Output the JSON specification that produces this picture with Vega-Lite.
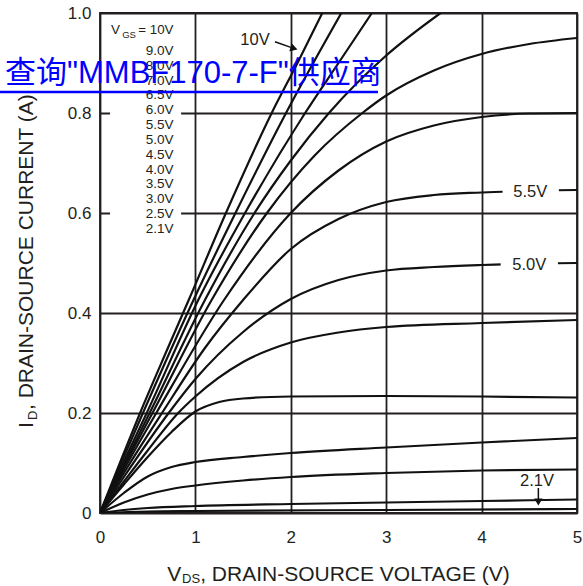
{
  "$schema": "https://vega.github.io/schema/vega-lite/v6.json",
  "width": 477,
  "height": 500,
  "autosize": "none",
  "padding": {"left": 100, "top": 13, "right": 6, "bottom": 73},
  "background": "white",
  "config": {"view": {"stroke": "#231f20", "strokeWidth": 1.8}, "font": "Liberation Sans"},
  "data": {"values": [{}]},
  "datasets": {
    "curves": [
      {"v":"10V","x":0,"y":0},{"v":"10V","x":0.25,"y":0.12},{"v":"10V","x":0.42,"y":0.2},{"v":"10V","x":0.7,"y":0.325},{"v":"10V","x":0.93,"y":0.426},{"v":"10V","x":1.32,"y":0.6},{"v":"10V","x":1.8,"y":0.8},{"v":"10V","x":2.07,"y":0.9},{"v":"10V","x":2.33,"y":1.0},
      {"v":"9V","x":0,"y":0},{"v":"9V","x":0.25,"y":0.112},{"v":"9V","x":0.45,"y":0.2},{"v":"9V","x":0.98,"y":0.426},{"v":"9V","x":1.42,"y":0.6},{"v":"9V","x":1.95,"y":0.8},{"v":"9V","x":2.53,"y":1.0},
      {"v":"8V","x":0,"y":0},{"v":"8V","x":0.25,"y":0.103},{"v":"8V","x":0.49,"y":0.2},{"v":"8V","x":1.03,"y":0.426},{"v":"8V","x":1.52,"y":0.6},{"v":"8V","x":2.15,"y":0.8},{"v":"8V","x":2.5,"y":0.9},{"v":"8V","x":2.85,"y":1.0},
      {"v":"7V","x":0,"y":0},{"v":"7V","x":0.25,"y":0.097},{"v":"7V","x":0.52,"y":0.2},{"v":"7V","x":1.1,"y":0.426},{"v":"7V","x":1.62,"y":0.6},{"v":"7V","x":2.0,"y":0.705},{"v":"7V","x":2.4,"y":0.8},{"v":"7V","x":3.0,"y":0.915},{"v":"7V","x":3.57,"y":1.0},
      {"v":"6.5V","x":0,"y":0},{"v":"6.5V","x":0.25,"y":0.093},{"v":"6.5V","x":0.55,"y":0.2},{"v":"6.5V","x":1.17,"y":0.426},{"v":"6.5V","x":1.75,"y":0.6},{"v":"6.5V","x":2.25,"y":0.715},{"v":"6.5V","x":2.75,"y":0.8},{"v":"6.5V","x":3.0,"y":0.835},{"v":"6.5V","x":3.5,"y":0.885},{"v":"6.5V","x":4.0,"y":0.918},{"v":"6.5V","x":4.5,"y":0.938},{"v":"6.5V","x":5.0,"y":0.95},
      {"v":"6.0V","x":0,"y":0},{"v":"6.0V","x":0.25,"y":0.087},{"v":"6.0V","x":0.59,"y":0.2},{"v":"6.0V","x":1.3,"y":0.426},{"v":"6.0V","x":2.0,"y":0.6},{"v":"6.0V","x":2.5,"y":0.685},{"v":"6.0V","x":3.0,"y":0.743},{"v":"6.0V","x":3.5,"y":0.775},{"v":"6.0V","x":4.0,"y":0.792},{"v":"6.0V","x":4.5,"y":0.799},{"v":"6.0V","x":5.0,"y":0.8},
      {"v":"5.5V","x":0,"y":0},{"v":"5.5V","x":0.25,"y":0.08},{"v":"5.5V","x":0.65,"y":0.2},{"v":"5.5V","x":1.1,"y":0.33},{"v":"5.5V","x":1.5,"y":0.426},{"v":"5.5V","x":2.0,"y":0.528},{"v":"5.5V","x":2.5,"y":0.588},{"v":"5.5V","x":3.0,"y":0.622},{"v":"5.5V","x":3.5,"y":0.636},{"v":"5.5V","x":4.0,"y":0.641},{"v":"5.5V","x":5.0,"y":0.646},
      {"v":"5.0V","x":0,"y":0},{"v":"5.0V","x":0.25,"y":0.072},{"v":"5.0V","x":0.72,"y":0.2},{"v":"5.0V","x":1.0,"y":0.268},{"v":"5.0V","x":1.5,"y":0.362},{"v":"5.0V","x":2.0,"y":0.428},{"v":"5.0V","x":2.5,"y":0.466},{"v":"5.0V","x":3.0,"y":0.485},{"v":"5.0V","x":3.5,"y":0.492},{"v":"5.0V","x":4.0,"y":0.496},{"v":"5.0V","x":5.0,"y":0.5},
      {"v":"4.5V","x":0,"y":0},{"v":"4.5V","x":0.25,"y":0.063},{"v":"4.5V","x":0.5,"y":0.125},{"v":"4.5V","x":0.82,"y":0.2},{"v":"4.5V","x":1.0,"y":0.233},{"v":"4.5V","x":1.5,"y":0.302},{"v":"4.5V","x":2.0,"y":0.341},{"v":"4.5V","x":2.5,"y":0.361},{"v":"4.5V","x":3.0,"y":0.372},{"v":"4.5V","x":4.0,"y":0.38},{"v":"4.5V","x":5.0,"y":0.386},
      {"v":"4.0V","x":0,"y":0},{"v":"4.0V","x":0.25,"y":0.057},{"v":"4.0V","x":0.5,"y":0.112},{"v":"4.0V","x":0.75,"y":0.162},{"v":"4.0V","x":1.0,"y":0.203},{"v":"4.0V","x":1.25,"y":0.222},{"v":"4.0V","x":1.5,"y":0.229},{"v":"4.0V","x":2.0,"y":0.233},{"v":"4.0V","x":3.0,"y":0.234},{"v":"4.0V","x":4.0,"y":0.233},{"v":"4.0V","x":5.0,"y":0.231},
      {"v":"3.5V","x":0,"y":0},{"v":"3.5V","x":0.25,"y":0.04},{"v":"3.5V","x":0.5,"y":0.073},{"v":"3.5V","x":0.75,"y":0.092},{"v":"3.5V","x":1.0,"y":0.102},{"v":"3.5V","x":1.5,"y":0.112},{"v":"3.5V","x":2.0,"y":0.12},{"v":"3.5V","x":3.0,"y":0.131},{"v":"3.5V","x":4.0,"y":0.141},{"v":"3.5V","x":5.0,"y":0.15},
      {"v":"3.0V","x":0,"y":0},{"v":"3.0V","x":0.25,"y":0.021},{"v":"3.0V","x":0.5,"y":0.037},{"v":"3.0V","x":0.75,"y":0.048},{"v":"3.0V","x":1.0,"y":0.055},{"v":"3.0V","x":1.5,"y":0.065},{"v":"3.0V","x":2.0,"y":0.072},{"v":"3.0V","x":3.0,"y":0.08},{"v":"3.0V","x":4.0,"y":0.085},{"v":"3.0V","x":5.0,"y":0.087},
      {"v":"2.5V","x":0,"y":0},{"v":"2.5V","x":0.25,"y":0.006},{"v":"2.5V","x":0.5,"y":0.01},{"v":"2.5V","x":1.0,"y":0.014},{"v":"2.5V","x":2.0,"y":0.018},{"v":"2.5V","x":3.0,"y":0.021},{"v":"2.5V","x":4.0,"y":0.024},{"v":"2.5V","x":5.0,"y":0.027},
      {"v":"2.1V","x":0,"y":0},{"v":"2.1V","x":0.5,"y":0.003},{"v":"2.1V","x":1.0,"y":0.004},{"v":"2.1V","x":3.0,"y":0.006},{"v":"2.1V","x":5.0,"y":0.008}
    ]
  },
  "layer": [
    {
      "data": {"name": "curves"},
      "mark": {"type": "line", "color": "#111111", "strokeWidth": 2.2, "interpolate": "monotone", "clip": true},
      "encoding": {
        "x": {"field": "x", "type": "quantitative",
          "scale": {"domain": [0, 5], "nice": false, "zero": false},
          "axis": {"values": [0, 1, 2, 3, 4, 5], "grid": true, "gridColor": "#231f20", "gridWidth": 1.8, "gridOpacity": 1,
                   "domain": false, "ticks": false, "labelFontSize": 17, "labelColor": "#231f20", "labelPadding": 16,
                   "labelFlush": false, "labelFont": "Liberation Sans", "title": null,
                   "labelExpr": "format(datum.value, 'd')"}},
        "y": {"field": "y", "type": "quantitative",
          "scale": {"domain": [0, 1], "nice": false, "zero": false},
          "axis": {"values": [0, 0.2, 0.4, 0.6, 0.8, 1.0], "grid": true, "gridColor": "#231f20", "gridWidth": 1.8, "gridOpacity": 1,
                   "domain": false, "ticks": false, "labelFontSize": 17, "labelColor": "#231f20", "labelPadding": 9,
                   "labelFlush": false, "labelFont": "Liberation Sans", "title": null,
                   "labelExpr": "datum.value == 0 ? '0' : format(datum.value, '.1f')"}},
        "detail": {"field": "v", "type": "nominal"}
      }
    },
    {
      "mark": {"type": "rect", "fill": "white"},
      "encoding": {"x": {"datum": 0.105, "type": "quantitative"}, "x2": {"datum": 0.85}, "y": {"datum": 0.556, "type": "quantitative"}, "y2": {"datum": 0.99}}
    },
    {
      "mark": {"type": "rect", "fill": "white"},
      "encoding": {"x": {"datum": 4.22, "type": "quantitative"}, "x2": {"datum": 4.81}, "y": {"datum": 0.615, "type": "quantitative"}, "y2": {"datum": 0.68}}
    },
    {
      "mark": {"type": "rect", "fill": "white"},
      "encoding": {"x": {"datum": 4.2, "type": "quantitative"}, "x2": {"datum": 4.8}, "y": {"datum": 0.468, "type": "quantitative"}, "y2": {"datum": 0.535}}
    },
    {
      "mark": {"type": "text", "align": "center", "baseline": "alphabetic", "fontSize": 16.5, "color": "#231f20", "text": "5.5V"},
      "encoding": {"x": {"datum": 4.51, "type": "quantitative"}, "y": {"datum": 0.632, "type": "quantitative"}}
    },
    {
      "mark": {"type": "text", "align": "center", "baseline": "alphabetic", "fontSize": 16.5, "color": "#231f20", "text": "5.0V"},
      "encoding": {"x": {"datum": 4.5, "type": "quantitative"}, "y": {"datum": 0.486, "type": "quantitative"}}
    },
    {
      "mark": {"type": "text", "align": "center", "baseline": "alphabetic", "fontSize": 16.5, "color": "#231f20", "text": "2.1V"},
      "encoding": {"x": {"datum": 4.58, "type": "quantitative"}, "y": {"datum": 0.054, "type": "quantitative"}}
    },
    {
      "mark": {"type": "rule", "color": "#111111", "strokeWidth": 1.5},
      "encoding": {"x": {"datum": 4.595, "type": "quantitative"}, "y": {"datum": 0.05, "type": "quantitative"}, "y2": {"datum": 0.025}}
    },
    {
      "mark": {"type": "point", "shape": "triangle-down", "filled": true, "color": "#111111", "size": 70, "opacity": 1},
      "encoding": {"x": {"datum": 4.595, "type": "quantitative"}, "y": {"datum": 0.022, "type": "quantitative"}}
    },
    {
      "mark": {"type": "text", "align": "center", "baseline": "alphabetic", "fontSize": 16.5, "color": "#231f20", "text": "10V"},
      "encoding": {"x": {"datum": 1.625, "type": "quantitative"}, "y": {"datum": 0.936, "type": "quantitative"}}
    },
    {
      "mark": {"type": "rule", "color": "#111111", "strokeWidth": 1.5},
      "encoding": {"x": {"datum": 1.834, "type": "quantitative"}, "x2": {"datum": 2.0}, "y": {"datum": 0.9426, "type": "quantitative"}, "y2": {"datum": 0.9312}}
    },
    {
      "mark": {"type": "point", "shape": "triangle-right", "filled": true, "color": "#111111", "size": 70, "angle": 18, "opacity": 1},
      "encoding": {"x": {"datum": 2.034, "type": "quantitative"}, "y": {"datum": 0.929, "type": "quantitative"}}
    },
    {
      "mark": {"type": "text", "align": "left", "baseline": "alphabetic", "fontSize": 13.5, "color": "#231f20", "text": "V"},
      "encoding": {"x": {"datum": 0.115, "type": "quantitative"}, "y": {"datum": 0.9574, "type": "quantitative"}}
    },
    {
      "mark": {"type": "text", "align": "left", "baseline": "alphabetic", "fontSize": 9.5, "color": "#231f20", "text": "GS"},
      "encoding": {"x": {"datum": 0.232, "type": "quantitative"}, "y": {"datum": 0.951, "type": "quantitative"}}
    },
    {
      "mark": {"type": "text", "align": "right", "baseline": "alphabetic", "fontSize": 13.3, "color": "#231f20", "text": "= 10V"},
      "encoding": {"x": {"datum": 0.77, "type": "quantitative"}, "y": {"datum": 0.9574, "type": "quantitative"}}
    },
    {
      "mark": {"type": "text", "align": "right", "baseline": "alphabetic", "fontSize": 13.5, "lineHeight": 14.83, "color": "#231f20",
               "text": ["9.0V", "8.0V", "7.0V", "6.5V", "6.0V", "5.5V", "5.0V", "4.5V", "4.0V", "3.5V", "3.0V", "2.5V", "2.1V"]},
      "encoding": {"x": {"datum": 0.77, "type": "quantitative"}, "y": {"datum": 0.916, "type": "quantitative"}}
    },
    {
      "mark": {"type": "text", "align": "left", "baseline": "alphabetic", "fontSize": 21, "color": "#231f20", "text": "V"},
      "encoding": {"x": {"datum": 0.705, "type": "quantitative"}, "y": {"datum": -0.136, "type": "quantitative"}}
    },
    {
      "mark": {"type": "text", "align": "left", "baseline": "alphabetic", "fontSize": 13, "color": "#231f20", "text": "DS"},
      "encoding": {"x": {"datum": 0.86, "type": "quantitative"}, "y": {"datum": -0.14, "type": "quantitative"}}
    },
    {
      "mark": {"type": "text", "align": "left", "baseline": "alphabetic", "fontSize": 21, "color": "#231f20", "text": ", DRAIN-SOURCE VOLTAGE (V)"},
      "encoding": {"x": {"datum": 1.05, "type": "quantitative"}, "y": {"datum": -0.136, "type": "quantitative"}}
    },
    {
      "mark": {"type": "text", "align": "left", "baseline": "alphabetic", "fontSize": 21, "angle": 270, "color": "#231f20", "text": "I"},
      "encoding": {"x": {"datum": -0.702, "type": "quantitative"}, "y": {"datum": 0.17, "type": "quantitative"}}
    },
    {
      "mark": {"type": "text", "align": "left", "baseline": "alphabetic", "fontSize": 13, "angle": 270, "color": "#231f20", "text": "D"},
      "encoding": {"x": {"datum": -0.66, "type": "quantitative"}, "y": {"datum": 0.186, "type": "quantitative"}}
    },
    {
      "mark": {"type": "text", "align": "left", "baseline": "alphabetic", "fontSize": 21, "angle": 270, "color": "#231f20", "text": ", DRAIN-SOURCE CURRENT (A)"},
      "encoding": {"x": {"datum": -0.702, "type": "quantitative"}, "y": {"datum": 0.206, "type": "quantitative"}}
    },
    {
      "mark": {"type": "text", "align": "left", "baseline": "alphabetic", "fontSize": 31, "font": "Liberation Sans, Noto Sans CJK SC", "color": "#0000ff", "text": "查询\"MMBF170-7-F\"供应商"},
      "encoding": {"x": {"datum": -0.996, "type": "quantitative"}, "y": {"datum": 0.86, "type": "quantitative"}}
    },
    {
      "mark": {"type": "rule", "color": "#0000ff", "strokeWidth": 2.5},
      "encoding": {"x": {"datum": -1.048, "type": "quantitative"}, "x2": {"datum": 2.914}, "y": {"datum": 0.842, "type": "quantitative"}}
    }
  ]
}
